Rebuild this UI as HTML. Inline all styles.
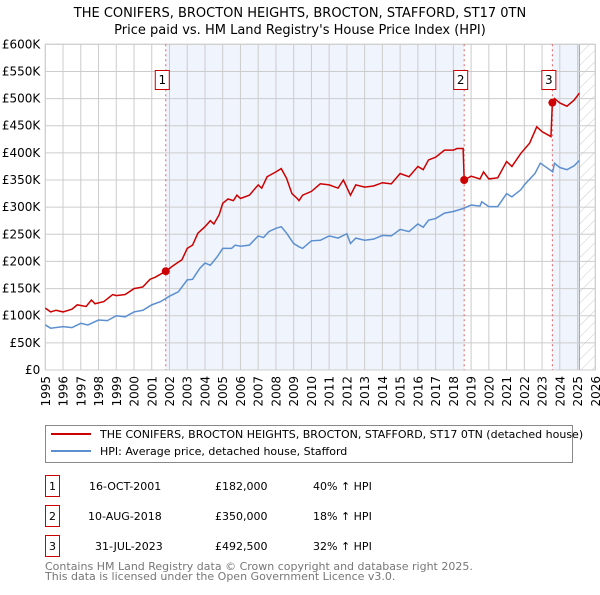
<!DOCTYPE html>
<html><head><meta charset="utf-8"><style>
body{margin:0;background:#fff;font-family:"Liberation Sans","DejaVu Sans",sans-serif;}
svg text{font-family:"DejaVu Sans","Liberation Sans",sans-serif;}
</style></head><body>
<svg id="chart" width="600" height="590" viewBox="0 0 600 590" xmlns="http://www.w3.org/2000/svg">
<defs><pattern id="hatch" width="8" height="8" patternUnits="userSpaceOnUse" patternTransform="rotate(45)"><line x1="0" y1="0" x2="0" y2="8" stroke="#ccc" stroke-width="1"/></pattern></defs>
<text x="300" y="17" text-anchor="middle" font-size="13">THE CONIFERS, BROCTON HEIGHTS, BROCTON, STAFFORD, ST17 0TN</text>
<text x="300" y="34" text-anchor="middle" font-size="13">Price paid vs. HM Land Registry's House Price Index (HPI)</text>
<g id="plot"></g>
<g>
<rect x="45.5" y="425.5" width="527" height="37" fill="#fff" stroke="#888"/>
<line x1="51" y1="434" x2="91" y2="434" stroke="#cc0000" stroke-width="2"/>
<text x="100" y="438" font-size="11">THE CONIFERS, BROCTON HEIGHTS, BROCTON, STAFFORD, ST17 0TN (detached house)</text>
<line x1="51" y1="451" x2="91" y2="451" stroke="#5b8fd0" stroke-width="2"/>
<text x="100" y="455" font-size="11">HPI: Average price, detached house, Stafford</text>
</g>
<g font-size="11">
<rect x="45.5" y="475.5" width="14" height="21" fill="#fff" stroke="#cc0000"/><text x="52.5" y="490" text-anchor="middle">1</text>
<text x="89" y="490">16-OCT-2001</text><text x="215" y="490">£182,000</text><text x="313" y="490">40% ↑ HPI</text>
<rect x="45.5" y="505.5" width="14" height="21" fill="#fff" stroke="#cc0000"/><text x="52.5" y="520" text-anchor="middle">2</text>
<text x="88" y="520">10-AUG-2018</text><text x="215" y="520">£350,000</text><text x="313" y="520">18% ↑ HPI</text>
<rect x="45.5" y="535.5" width="14" height="21" fill="#fff" stroke="#cc0000"/><text x="52.5" y="550" text-anchor="middle">3</text>
<text x="95" y="550">31-JUL-2023</text><text x="215" y="550">£492,500</text><text x="313" y="550">32% ↑ HPI</text>
</g>
<text x="45" y="570" font-size="11" fill="#777">Contains HM Land Registry data © Crown copyright and database right 2025.</text>
<text x="45" y="580" font-size="11" fill="#777">This data is licensed under the Open Government Licence v3.0.</text>
</svg>
<script>
const yTicks=[0,50000,100000,150000,200000,250000,300000,350000,400000,450000,500000,550000,600000];
const yTickLabels=["£0","£50K","£100K","£150K","£200K","£250K","£300K","£350K","£400K","£450K","£500K","£550K","£600K"];
const xYears=[1995,1996,1997,1998,1999,2000,2001,2002,2003,2004,2005,2006,2007,2008,2009,2010,2011,2012,2013,2014,2015,2016,2017,2018,2019,2020,2021,2022,2023,2024,2025,2026];
const hpiT=[1995,1995.3,1996,1996.5,1997,1997.4,1998,1998.5,1999,1999.5,2000,2000.5,2001,2001.5,2002,2002.5,2003,2003.3,2003.7,2004,2004.3,2004.7,2005,2005.5,2005.7,2006,2006.5,2007,2007.3,2007.6,2008,2008.3,2008.6,2009,2009.3,2009.5,2010,2010.5,2011,2011.5,2012,2012.2,2012.5,2013,2013.5,2014,2014.5,2015,2015.5,2016,2016.3,2016.6,2017,2017.5,2018,2018.6,2019,2019.5,2019.6,2020,2020.5,2021,2021.3,2021.8,2022,2022.6,2022.9,2023.3,2023.6,2023.7,2024,2024.4,2024.8,2025.1];
const hpiV=[83,77,80,78,86,83,92,91,100,98,107,110,120,126,136,144,166,167,187,197,193,209,224,224,230,228,230,247,244,255,261,264,252,233,227,224,238,239,247,243,251,233,243,239,241,248,247,259,255,269,263,276,279,289,292,298,304,302,310,301,301,325,319,332,341,362,381,372,365,381,373,369,376,386];
const priceT=[1995,1995.3,1995.6,1996,1996.5,1996.8,1997.3,1997.6,1997.8,1998.3,1998.8,1999,1999.5,2000,2000.5,2000.9,2001.2,2001.79,2002.2,2002.7,2003,2003.3,2003.6,2004,2004.3,2004.5,2004.8,2005,2005.3,2005.6,2005.8,2006,2006.5,2007,2007.2,2007.5,2008,2008.3,2008.6,2008.9,2009.2,2009.3,2009.5,2010,2010.5,2011,2011.5,2011.8,2012.2,2012.5,2013,2013.5,2014,2014.5,2015,2015.5,2016,2016.3,2016.6,2017,2017.5,2018,2018.2,2018.55,2018.61,2019,2019.5,2019.7,2020,2020.5,2021,2021.3,2021.8,2022.3,2022.7,2023,2023.5,2023.58,2023.7,2024,2024.4,2024.8,2025.1];
const priceV=[114,107,110,107,112,120,117,129,122,126,139,137,139,150,153,167,171,182,192,203,224,230,252,264,275,269,286,307,315,312,322,316,322,341,335,356,365,371,353,325,316,312,322,329,343,341,335,350,322,341,337,339,345,343,362,356,375,369,387,392,405,405,408,408,350,357,352,365,352,354,384,375,399,418,448,439,430,492.5,500,492,486,497,510];
const saleT=[2001.79,2018.61,2023.58];
const saleV=[182,350,492.5];
const saleLabels=["1","2","3"];

const NS="http://www.w3.org/2000/svg";
const X0=45.3,X1=595.3,Y0=370,Y1=44.3;
const xs=t=>X0+(t-1995)/(2026-1995)*(X1-X0);
const ys=v=>Y0-v/600000*(Y0-Y1);
const plot=document.getElementById('plot');
function mk(tag,attrs,parent){const e=document.createElementNS(NS,tag);for(const k in attrs)e.setAttribute(k,attrs[k]);(parent||plot).appendChild(e);return e;}
let e;
e=mk('rect',{x:X0,y:Y1,width:X1-X0,height:Y0-Y1,fill:'#fff'});


e=mk('rect',{x:xs(saleT[0]),y:Y1,width:xs(saleT[1])-xs(saleT[0]),height:Y0-Y1,fill:'#f0f4fd'});


e=mk('rect',{x:xs(saleT[2]),y:Y1,width:xs(2025.1)-xs(saleT[2]),height:Y0-Y1,fill:'#f0f4fd'});


e=mk('rect',{x:xs(2025.1),y:Y1,width:X1-xs(2025.1),height:Y0-Y1,fill:'url(#hatch)'});


e=mk('line',{x1:xs(2025.1),y1:Y1,x2:xs(2025.1),y2:Y0,stroke:'#999','stroke-width':1});


yTicks.forEach((v,i)=>{
 e=mk('line',{x1:X0,x2:X1,y1:ys(v),y2:ys(v),stroke:'#ccc','stroke-width':1});
 
 
 e=mk('text',{x:X0-5,y:ys(v)+4,'text-anchor':'end','font-size':12});
 e.textContent=yTickLabels[i];
 
 
});
xYears.forEach(yr=>{
 e=mk('line',{x1:xs(yr),x2:xs(yr),y1:Y1,y2:Y0,stroke:'#ccc','stroke-width':1});
 
 
 const g=mk('g',{transform:'translate('+(xs(yr)+4.5)+','+(Y0+6)+') rotate(-90)'});
 e=mk('text',{x:0,y:0,'text-anchor':'end','font-size':12},g);
 e.textContent=String(yr);
 
 
});
e=mk('rect',{x:X0,y:Y1,width:X1-X0,height:Y0-Y1,fill:'none',stroke:'#ccc'});


saleT.forEach((t,i)=>{
 e=mk('line',{x1:xs(t),x2:xs(t),y1:Y1,y2:Y0,stroke:'#e06060','stroke-width':1,'stroke-dasharray':'2,3'});
 
 
});
e=mk('polyline',{points:hpiT.map((t,i)=>xs(t)+','+ys(hpiV[i]*1000)).join(' '),fill:'none',stroke:'#5b8fd0','stroke-width':1.5});


e=mk('polyline',{points:priceT.map((t,i)=>xs(t)+','+ys(priceV[i]*1000)).join(' '),fill:'none',stroke:'#cc0000','stroke-width':1.5});


saleT.forEach((t,i)=>{
 e=mk('circle',{cx:xs(t),cy:ys(saleV[i]*1000),r:4,fill:'#cc0000'});
 
 
 const bx=xs(t)-11;
 e=mk('rect',{x:bx+0.5,y:70.5,width:14,height:19,fill:'#fff',stroke:'#cc0000'});
 
 
 e=mk('text',{x:bx+7.5,y:84,'text-anchor':'middle','font-size':12});
 e.textContent=saleLabels[i];
 
 
});
</script>
</body></html>
